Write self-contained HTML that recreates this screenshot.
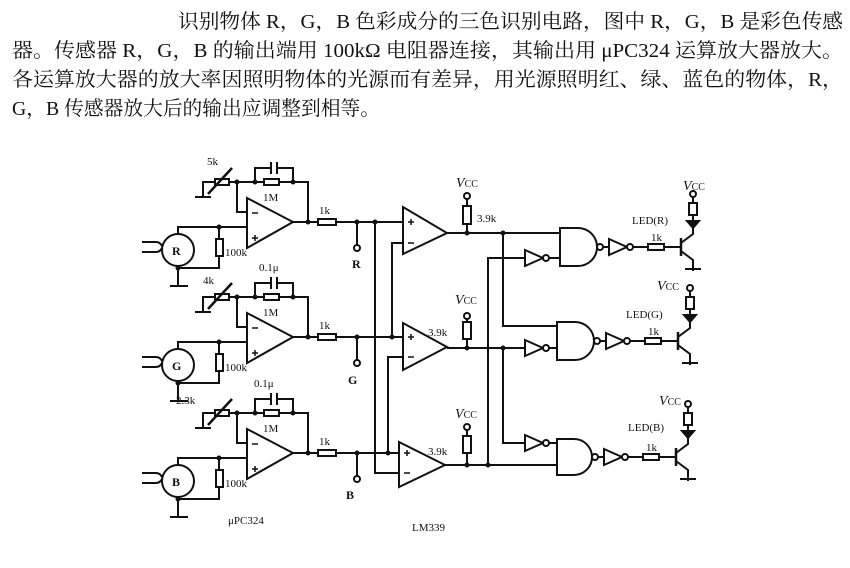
<!DOCTYPE html>
<html><head><meta charset="utf-8"><style>
html,body{margin:0;padding:0;background:#fff;}
svg{display:block;}
.t{font-family:"Liberation Serif","Noto Serif CJK SC",serif;font-size:20px;fill:#111;}
.s{font-family:"Liberation Serif",serif;font-size:11px;fill:#111;}
.b{font-family:"Liberation Serif",serif;font-size:12px;font-weight:bold;fill:#111;}
</style></head><body>
<svg width="850" height="568" viewBox="0 0 850 568" xmlns="http://www.w3.org/2000/svg">
<text class="t" x="178" y="28" textLength="665" lengthAdjust="spacingAndGlyphs">识别物体 R，G，B 色彩成分的三色识别电路，图中 R，G，B 是彩色传感</text>
<text class="t" x="12" y="57" textLength="831" lengthAdjust="spacingAndGlyphs">器。传感器 R，G，B 的输出端用 100kΩ 电阻器连接，其输出用 μPC324 运算放大器放大。</text>
<text class="t" x="12" y="86" textLength="831" lengthAdjust="spacingAndGlyphs">各运算放大器的放大率因照明物体的光源而有差异，用光源照明红、绿、蓝色的物体，R，</text>
<text class="t" x="12" y="115" textLength="368" lengthAdjust="spacingAndGlyphs">G，B 传感器放大后的输出应调整到相等。</text>

<defs>
<g id="amp" fill="none" stroke="#111" stroke-width="2">
  <path d="M215,182 H203 V197"/><path d="M195,197 H211"/>
  <rect x="215" y="179" width="14" height="6" fill="#fff"/>
  <path d="M208,194 L232,168" stroke-width="2.5"/>
  <path d="M229,182 H308 V222"/>
  <path d="M255,182 V168 H293 V182"/>
  <rect x="270" y="162" width="8" height="12" fill="#fff" stroke="none"/>
  <path d="M271,162 V174 M277,162 V174" stroke-width="2"/>
  <rect x="264" y="179" width="15" height="6" fill="#fff"/>
  <path d="M237,182 V212 H247"/>
  <path d="M247,198 L247,248 L293,222 Z" fill="#fff"/>
  <path d="M252,213 H258 M252,238 H258 M255,235 V241" stroke-width="1.5"/>
  <path d="M178,234 V227 H247"/>
  <path d="M219,227 V268 H178"/>
  <rect x="216" y="239" width="7" height="17" fill="#fff"/>
  <circle cx="178" cy="250" r="16" fill="#fff"/>
  <path d="M178,266 V286"/><path d="M170,286 H188"/>
  <path d="M142,242 H156 Q160,242 162,246 M142,252 H156 Q160,252 162,248" stroke-width="2"/>
  <path d="M293,222 H357"/>
  <rect x="318" y="219" width="18" height="6" fill="#fff"/>
  <path d="M357,222 V245"/><circle cx="357" cy="248" r="3" fill="#fff"/>
  <g fill="#111" stroke="none">
   <circle cx="237" cy="182" r="2.5"/><circle cx="255" cy="182" r="2.5"/><circle cx="293" cy="182" r="2.5"/>
   <circle cx="308" cy="222" r="2.5"/><circle cx="357" cy="222" r="2.5"/><circle cx="219" cy="227" r="2.5"/><circle cx="178" cy="268" r="2.5"/>
  </g>
  <text class="s" x="225" y="256" stroke="none" fill="#111">100k</text>
  <text class="s" x="263" y="201" stroke="none" fill="#111">1M</text>
  <text class="s" x="319" y="214" stroke="none" fill="#111">1k</text>
</g>
<g id="drv" fill="none" stroke="#111" stroke-width="2">
  <path d="M600,0 H606"/>
  <path d="M606,-8 L606,8 L624,0 Z" fill="#fff"/>
  <circle cx="627" cy="0" r="3" fill="#fff"/>
  <path d="M630,0 H678"/>
  <rect x="645" y="-3" width="16" height="6" fill="#fff"/>
  <path d="M678,-9 V9" stroke-width="2.5"/>
  <path d="M678,-4 L690,-13 V-20 M678,4 L690,13 V24"/>
  <path d="M682,22 H698"/>
  <path d="M690,-20 V-50"/>
  <path d="M684,-26 H696 L690,-19 Z" fill="#111"/>
  <rect x="686" y="-44" width="8" height="12" fill="#fff"/>
  <circle cx="690" cy="-53" r="3" fill="#fff"/>
  <text class="s" x="648" y="-6" stroke="none" fill="#111">1k</text>
</g>
</defs>

<use href="#amp"/>
<use href="#amp" transform="translate(0,115)"/>
<use href="#amp" transform="translate(0,231)"/>
<text class="b" x="172" y="255">R</text>
<text class="b" x="172" y="370">G</text>
<text class="b" x="172" y="486">B</text>
<text class="s" x="207" y="165">5k</text>
<text class="s" x="203" y="284">4k</text>
<text class="s" x="176" y="404">2.3k</text>
<text class="s" x="259" y="271">0.1μ</text>
<text class="s" x="254" y="387">0.1μ</text>
<text class="b" x="352" y="268">R</text>
<text class="b" x="348" y="384">G</text>
<text class="b" x="346" y="499">B</text>
<text class="s" x="228" y="524">μPC324</text>
<text class="s" x="412" y="531">LM339</text>

<g fill="none" stroke="#111" stroke-width="2">
  <path d="M357,222 H403"/>
  <path d="M375,222 V473 H399"/>
  <path d="M357,337 H403"/>
  <path d="M403,243 H392 V337"/>
  <path d="M357,453 H399"/>
  <path d="M403,357 H388 V453"/>
  <path d="M403,207 L403,254 L447,233 Z" fill="#fff"/>
  <path d="M403,323 L403,370 L447,347 Z" fill="#fff"/>
  <path d="M399,442 L399,487 L445,465 Z" fill="#fff"/>
  <path d="M408,222 H414 M411,219 V225 M408,243 H414 M408,337 H414 M411,334 V340 M408,357 H414 M404,453 H410 M407,450 V456 M404,473 H410" stroke-width="1.5"/>
  <path d="M447,233 H560"/>
  <path d="M447,348 H525"/>
  <path d="M445,465 H557"/>
  <path d="M467,199 V233 M467,319 V348 M467,430 V465"/>
  <rect x="463" y="206" width="8" height="18" fill="#fff"/>
  <rect x="463" y="322" width="8" height="17" fill="#fff"/>
  <rect x="463" y="436" width="8" height="17" fill="#fff"/>
  <circle cx="467" cy="196" r="3" fill="#fff"/>
  <circle cx="467" cy="316" r="3" fill="#fff"/>
  <circle cx="467" cy="427" r="3" fill="#fff"/>
  <path d="M503,233 V326 H557"/>
  <path d="M503,348 V443 H525"/>
  <path d="M488,465 V258 H525"/>
  <path d="M525,250 L525,266 L543,258 Z" fill="#fff"/><circle cx="546" cy="258" r="3" fill="#fff"/><path d="M549,258 H560"/>
  <path d="M525,340 L525,356 L543,348 Z" fill="#fff"/><circle cx="546" cy="348" r="3" fill="#fff"/><path d="M549,348 H557"/>
  <path d="M525,435 L525,451 L543,443 Z" fill="#fff"/><circle cx="546" cy="443" r="3" fill="#fff"/><path d="M549,443 H557"/>
  <path d="M560,228 H578 A19,19 0 0 1 578,266 H560 Z" fill="#fff"/><circle cx="600" cy="247" r="3" fill="#fff"/>
  <path d="M557,322 H575 A19,19 0 0 1 575,360 H557 Z" fill="#fff"/><circle cx="597" cy="341" r="3" fill="#fff"/>
  <path d="M557,439 H574 A18,18 0 0 1 574,475 H557 Z" fill="#fff"/><circle cx="595" cy="457" r="3" fill="#fff"/>
  <g fill="#111" stroke="none">
   <circle cx="375" cy="222" r="2.5"/><circle cx="392" cy="337" r="2.5"/><circle cx="388" cy="453" r="2.5"/>
   <circle cx="467" cy="233" r="2.5"/><circle cx="503" cy="233" r="2.5"/>
   <circle cx="467" cy="348" r="2.5"/><circle cx="503" cy="348" r="2.5"/>
   <circle cx="467" cy="465" r="2.5"/><circle cx="488" cy="465" r="2.5"/>
  </g>
</g>
<use href="#drv" transform="translate(3,247)"/>
<use href="#drv" transform="translate(0,341)"/>
<use href="#drv" transform="translate(-2,457)"/>
<text class="s" x="477" y="222">3.9k</text>
<text class="s" x="428" y="336">3.9k</text>
<text class="s" x="428" y="455">3.9k</text>
<g font-family="Liberation Serif,serif" font-style="italic" font-size="14" fill="#111">
 <text x="456" y="187">V<tspan font-size="10" font-style="normal">CC</tspan></text>
 <text x="455" y="304">V<tspan font-size="10" font-style="normal">CC</tspan></text>
 <text x="455" y="418">V<tspan font-size="10" font-style="normal">CC</tspan></text>
 <text x="683" y="190">V<tspan font-size="10" font-style="normal">CC</tspan></text>
 <text x="657" y="290">V<tspan font-size="10" font-style="normal">CC</tspan></text>
 <text x="659" y="405">V<tspan font-size="10" font-style="normal">CC</tspan></text>
</g>
<text class="s" x="632" y="224" font-size="12">LED(R)</text>
<text class="s" x="626" y="318" font-size="12">LED(G)</text>
<text class="s" x="628" y="431" font-size="12">LED(B)</text>
</svg>
</body></html>
